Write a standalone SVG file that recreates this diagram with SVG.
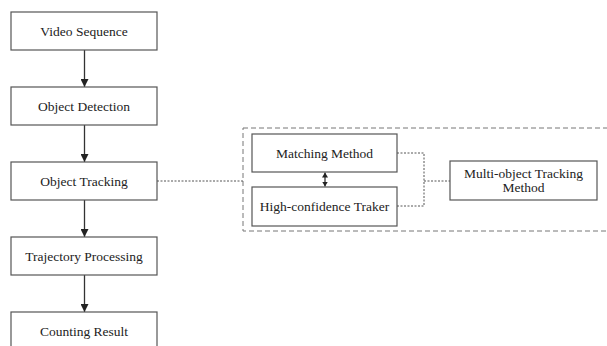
<svg xmlns="http://www.w3.org/2000/svg" width="607" height="346" viewBox="0 0 607 346">
<defs>
<style>
.box{fill:#fff;stroke:#555;stroke-width:1.2}
.t{font-family:"Liberation Serif","Times New Roman",serif;font-size:13.5px;fill:#222;text-anchor:middle}
.arr{stroke:#333;stroke-width:1.3;fill:none}
.dot{stroke:#555;stroke-width:1;fill:none;stroke-dasharray:2 1.5}
.dash{stroke:#777;stroke-width:1;fill:none;stroke-dasharray:5 3}
</style>
<marker id="ah" viewBox="0 0 10 10" refX="10" refY="5" markerWidth="8" markerHeight="8" markerUnits="userSpaceOnUse" orient="auto-start-reverse">
<path d="M0,0 L10,5 L0,10 z" fill="#222"/>
</marker>
<marker id="ahs" viewBox="0 0 10 10" refX="10" refY="5" markerWidth="5" markerHeight="6" markerUnits="userSpaceOnUse" orient="auto-start-reverse" preserveAspectRatio="none">
<path d="M0,0 L10,5 L0,10 z" fill="#222"/>
</marker>
</defs>
<rect width="607" height="346" fill="#fff"/>
<g id="group-outer">
<rect class="dash" x="243" y="128" width="370" height="103"/>
</g>
<g id="connectors">
<line class="arr" x1="84.5" y1="50" x2="84.5" y2="87" marker-end="url(#ah)"/>
<line class="arr" x1="84.5" y1="125" x2="84.5" y2="162" marker-end="url(#ah)"/>
<line class="arr" x1="84.5" y1="200" x2="84.5" y2="237" marker-end="url(#ah)"/>
<line class="arr" x1="84.5" y1="275" x2="84.5" y2="312" marker-end="url(#ah)"/>
<line class="dot" x1="157" y1="181" x2="243" y2="181"/>
<line class="arr" x1="325" y1="172.5" x2="325" y2="186.5" stroke-width="1" marker-start="url(#ahs)" marker-end="url(#ahs)"/>
<polyline class="dot" points="397,153 424,153 424,206 397,206"/>
<line class="dot" x1="424" y1="181" x2="450" y2="181"/>
</g>
<g id="video-sequence">
<rect class="box" x="11" y="12" width="146" height="38"/>
<text class="t" x="84" y="35.5">Video Sequence</text>
</g>
<g id="object-detection">
<rect class="box" x="11" y="87" width="146" height="38"/>
<text class="t" x="84" y="110.5">Object Detection</text>
</g>
<g id="object-tracking">
<rect class="box" x="11" y="162" width="146" height="38"/>
<text class="t" x="84" y="185.5">Object Tracking</text>
</g>
<g id="trajectory-processing">
<rect class="box" x="11" y="237" width="146" height="38"/>
<text class="t" x="84" y="260.5">Trajectory Processing</text>
</g>
<g id="counting-result">
<rect class="box" x="11" y="312" width="146" height="40"/>
<text class="t" x="84" y="336">Counting Result</text>
</g>
<g id="matching-method">
<rect class="box" x="252" y="134" width="145" height="38"/>
<text class="t" x="324.5" y="157.5">Matching Method</text>
</g>
<g id="high-confidence-traker">
<rect class="box" x="252" y="187" width="145" height="39"/>
<text class="t" x="324.5" y="211">High-confidence Traker</text>
</g>
<g id="multi-object-tracking-method">
<rect class="box" x="450" y="161" width="147" height="39"/>
<text class="t" x="523.5" y="178">Multi-object Tracking</text>
<text class="t" x="523.5" y="192">Method</text>
</g>
</svg>
